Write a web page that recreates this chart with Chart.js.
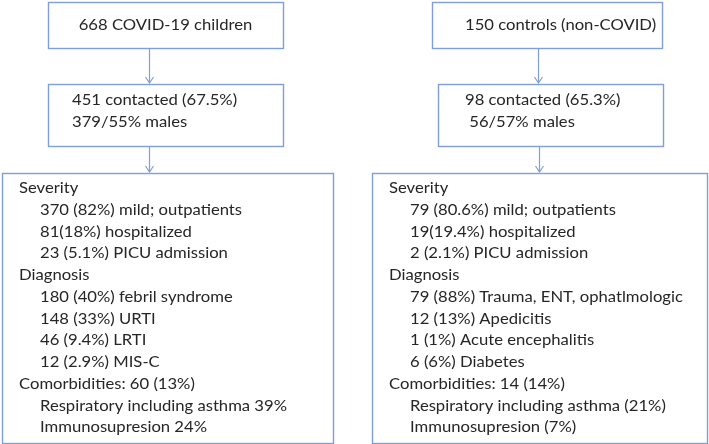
<!DOCTYPE html>
<html>
<head>
<meta charset="utf-8">
<script src="https://cdn.jsdelivr.net/npm/chart.js@4.4.0/dist/chart.umd.min.js"></script>
<style>
  body { margin: 0; background: #fff; }
  #flow { display: block; }
</style>
</head>
<body>
<canvas id="flow" width="709" height="444"></canvas>
<script>
'use strict';

// flow chart text, one array per step
let groups = ['668 COVID-19 children', '150 controls (non-COVID)'];
let contacted = ['451 contacted (67.5%)', '98 contacted (65.3%)'];
let males = ['379/55% males', ' 56/57% males'];

let covidSeverity = ['370 (82%) mild; outpatients', '81(18%) hospitalized', '23 (5.1%) PICU admission'];
let covidDiagnosis = ['180 (40%) febril syndrome', '148 (33%) URTI', '46 (9.4%) LRTI', '12 (2.9%) MIS-C'];
let covidComorb = ['Respiratory including asthma 39%', 'Immunosupresion 24%'];

let controlSeverity = ['79 (80.6%) mild; outpatients', '19(19.4%) hospitalized', '2 (2.1%) PICU admission'];
let controlDiagnosis = ['79 (88%) Trauma, ENT, ophatlmologic', '12 (13%) Apedicitis', '1 (1%) Acute encephalitis', '6 (6%) Diabetes'];
let controlComorb = ['Respiratory including asthma (21%)', 'Immunosupresion (7%)'];

let headers = [
  ['Severity', 'Diagnosis', 'Comorbidities: 60 (13%)'],
  ['Severity', 'Diagnosis', 'Comorbidities: 14 (14%)']
];

// layout (in chart units, x 0..709, y 0..444 top-down)
let cols = [
  { top: [48, 283], mid: [48, 283], low: [2, 333], arrowX: 149, textX: 72, headX: 19, indentX: 40 },
  { top: [432, 662], mid: [438, 663], low: [372, 707], arrowX: 538, textX: 465, headX: 389, indentX: 410 }
];
let rows = { top: [2, 48], mid: [84, 146], low: [173, 443] };

let lineColor = '#7f9fd6';
let textColor = '#262626';
let fontFamily = 'Lato, "Open Sans", sans-serif';
let fontSize = 16;

function buildLines(i) {
  let sev = i === 0 ? covidSeverity : controlSeverity;
  let dia = i === 0 ? covidDiagnosis : controlDiagnosis;
  let com = i === 0 ? covidComorb : controlComorb;
  let out = [];
  out.push({ text: headers[i][0], indent: false });
  sev.forEach(t => out.push({ text: t, indent: true }));
  out.push({ text: headers[i][1], indent: false });
  dia.forEach(t => out.push({ text: t, indent: true }));
  out.push({ text: headers[i][2], indent: false });
  com.forEach(t => out.push({ text: t, indent: true }));
  return out;
}

let flowPlugin = {
  id: 'flow',
  afterDraw(chart) {
    let ctx = chart.ctx;
    let sx = chart.scales.x;
    let sy = chart.scales.y;
    let px = v => Math.round(sx.getPixelForValue(v)) + 0.5;
    let py = v => Math.round(sy.getPixelForValue(v)) + 0.5;

    ctx.save();
    ctx.font = fontSize + 'px ' + fontFamily;
    // squeeze text a bit so it runs as narrow as the original
    let squeeze = 247 / ctx.measureText('Respiratory including asthma 39%').width;

    function box(xr, yr) {
      ctx.strokeStyle = lineColor;
      ctx.lineWidth = 1.4;
      ctx.strokeRect(px(xr[0]), py(yr[0]), px(xr[1]) - px(xr[0]), py(yr[1]) - py(yr[0]));
    }

    function arrow(x, y0, y1) {
      let X = px(x);
      let Y1 = sy.getPixelForValue(y1) - 1;
      ctx.strokeStyle = lineColor;
      ctx.lineWidth = 1.2;
      ctx.beginPath();
      ctx.moveTo(X, sy.getPixelForValue(y0));
      ctx.lineTo(X, Y1);
      ctx.moveTo(X - 4, Y1 - 6);
      ctx.lineTo(X, Y1);
      ctx.lineTo(X + 4, Y1 - 6);
      ctx.stroke();
    }

    function text(str, x, y, align) {
      ctx.save();
      ctx.fillStyle = textColor;
      ctx.textBaseline = 'alphabetic';
      ctx.translate(sx.getPixelForValue(x), sy.getPixelForValue(y));
      ctx.scale(squeeze, 1);
      ctx.textAlign = align || 'left';
      ctx.fillText(str, 0, 0);
      ctx.restore();
    }

    cols.forEach((c, i) => {
      box(c.top, rows.top);
      box(c.mid, rows.mid);
      box(c.low, rows.low);
      arrow(c.arrowX, rows.top[1], rows.mid[0]);
      arrow(c.arrowX + i * 0.5, rows.mid[1], rows.low[0]);

      if (i === 0) {
        text(groups[i], (c.top[0] + c.top[1]) / 2, 30, 'center');
      } else {
        text(groups[i], c.textX, 30);
      }
      text(contacted[i], c.textX, 105);
      text(males[i], c.textX, 127);

      buildLines(i).forEach((l, k) => {
        text(l.text, l.indent ? c.indentX : c.headX, 193 + k * 21.75);
      });
    });
    ctx.restore();
  }
};

let ctx = document.getElementById('flow').getContext('2d');

new Chart(ctx, {
  type: 'scatter',
  data: { datasets: [] },
  options: {
    responsive: false,
    animation: false,
    devicePixelRatio: 1,
    layout: { padding: 0 },
    plugins: { legend: { display: false }, tooltip: { enabled: false } },
    scales: {
      x: { type: 'linear', min: 0, max: 709, display: false },
      y: { type: 'linear', min: 0, max: 444, reverse: true, display: false }
    }
  },
  plugins: [flowPlugin]
});
</script>
</body>
</html>
